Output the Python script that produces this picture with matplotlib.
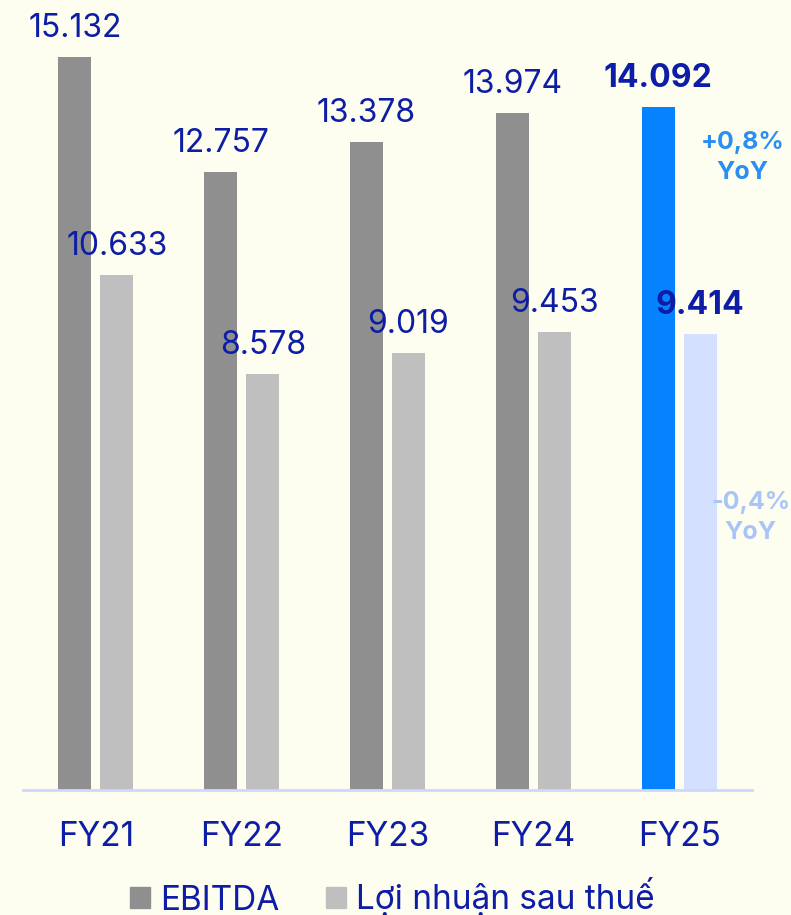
import numpy as np
import matplotlib
matplotlib.use("Agg")
import matplotlib.pyplot as plt
from matplotlib.patches import Patch

plt.rcParams['font.family'] = ['Inter', 'DejaVu Sans']

# du lieu
years = ["FY21", "FY22", "FY23", "FY24", "FY25"]
ebitda = [15.132, 12.757, 13.378, 13.974, 14.092]
lnst = [10.633, 8.578, 9.019, 9.453, 9.414]
ebitda_lbl = ["15.132", "12.757", "13.378", "13.974", "14.092"]
lnst_lbl = ["10.633", "8.578", "9.019", "9.453", "9.414"]
yoy_ebitda = "+0,8%\nYoY"
yoy_lnst = "-0,4%\nYoY"

BG = "#FEFEF0"
TXT = "#0D1DA6"
GRAY_D = "#8F8F8F"
GRAY_L = "#BFBFBF"
BLUE = "#0582FF"
BLUE_L = "#D3E0FF"

fig = plt.figure(figsize=(7.91, 9.15), dpi=100, facecolor=BG)
ax = fig.add_axes([23 / 791, 125 / 915, 729 / 791, 790 / 915])
ax.set_facecolor(BG)

x = np.arange(len(years))
w = 0.226
off = 0.144
c1 = [GRAY_D] * 4 + [BLUE]
c2 = [GRAY_L] * 4 + [BLUE_L]
ax.bar(x - off, ebitda, w, color=c1)
ax.bar(x + off, lnst, w, color=c2)

for i in range(len(years)):
    bold = "bold" if i == len(years) - 1 else "normal"
    ax.text(x[i] - off, ebitda[i] + 0.27, ebitda_lbl[i], ha="center", va="bottom",
            fontsize=23, color=TXT, fontweight=bold)
    ax.text(x[i] + off, lnst[i] + 0.27, lnst_lbl[i], ha="center", va="bottom",
            fontsize=23, color=TXT, fontweight=bold)

ax.text(4.436, 13.05, yoy_ebitda, ha="center", va="center", fontsize=18,
        color="#2B8EF2", fontweight="bold", linespacing=1.4)
ax.text(4.49, 5.62, yoy_lnst, ha="center", va="center", fontsize=18,
        color="#A9C4F7", fontweight="bold", linespacing=1.4, clip_on=False)

ax.set_xlim(-0.5, 4.5)
ax.set_ylim(0, 790 / 48.44)
ax.set_xticks(x)
ax.set_xticklabels(years, fontsize=24, color=TXT)
ax.tick_params(axis="x", length=0, pad=22)
ax.set_yticks([])
for s in ["top", "right", "left"]:
    ax.spines[s].set_visible(False)
ax.spines["bottom"].set_color("#CFD6FF")
ax.spines["bottom"].set_linewidth(2)

handles = [Patch(color=GRAY_D, label="EBITDA"), Patch(color=GRAY_L, label="Lợi nhuận sau thuế")]
leg = fig.legend(handles=handles, loc="center", bbox_to_anchor=(392 / 791, 1 - 897 / 915),
                 ncol=2, frameon=False, fontsize=24, handlelength=0.6, handleheight=0.6,
                 handletextpad=0.3, columnspacing=1.4, borderpad=0.2)
for t in leg.get_texts():
    t.set_color(TXT)

fig.savefig("out.png", dpi=100, facecolor=BG)
